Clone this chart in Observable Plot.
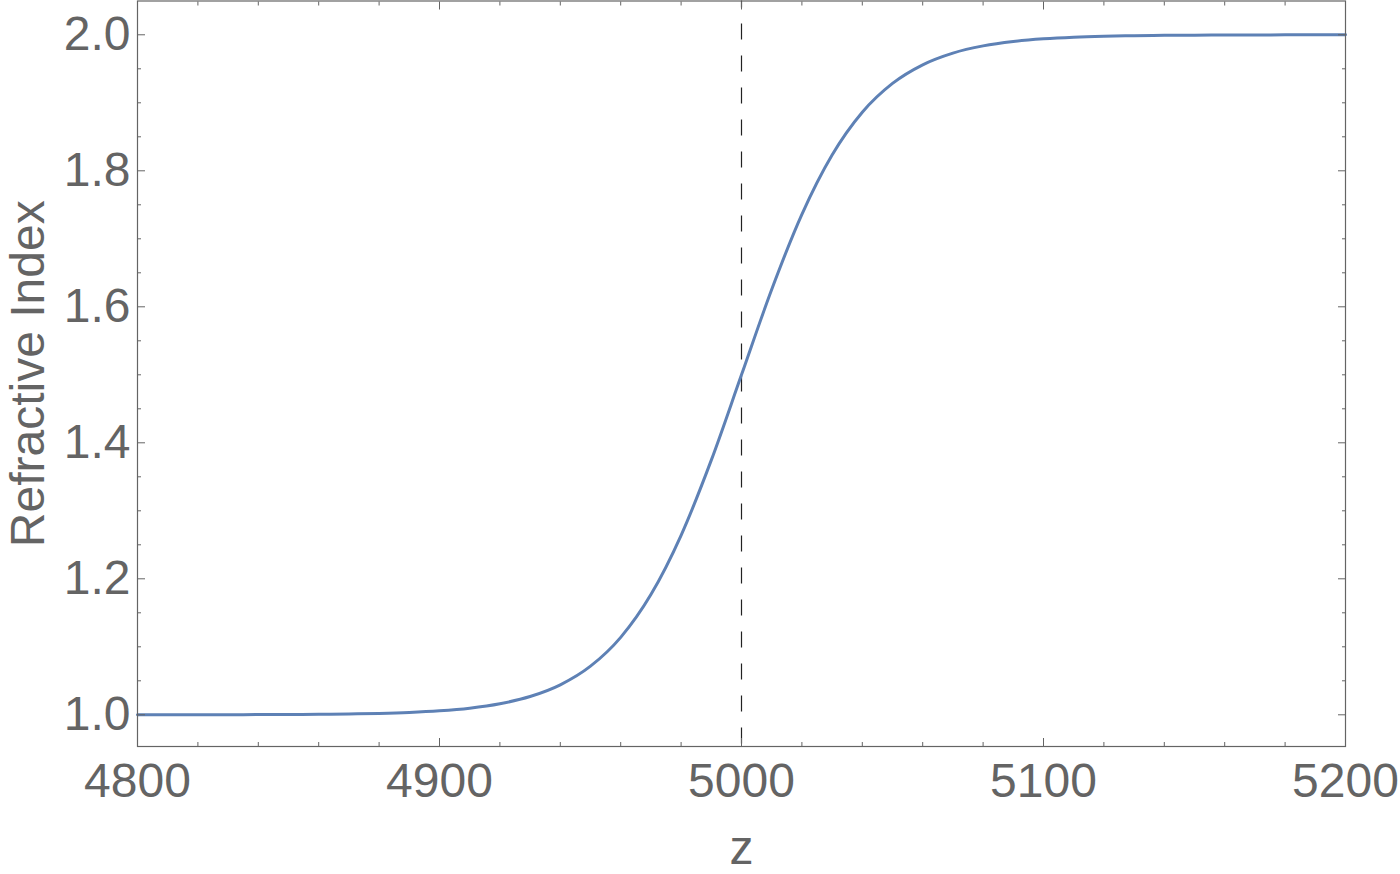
<!DOCTYPE html>
<html>
<head>
<meta charset="utf-8">
<script src="https://cdn.jsdelivr.net/npm/d3@7"></script>
<script src="https://cdn.jsdelivr.net/npm/@observablehq/plot@0.6"></script>
<style>
  html, body { margin: 0; padding: 0; background: #fff; }
  #chart { width: 1400px; height: 874px; }
</style>
</head>
<body>
<div id="chart"></div>
<script>
// Position z along the axis
const zValues = [4800, 4810, 4820, 4830, 4840, 4850, 4860, 4870, 4880, 4890,
                 4900, 4910, 4920, 4930, 4940, 4950, 4960, 4970, 4980, 4990,
                 5000, 5010, 5020, 5030, 5040, 5050, 5060, 5070, 5080, 5090,
                 5100, 5110, 5120, 5130, 5140, 5150, 5160, 5170, 5180, 5190, 5200];
// Refractive index
const indexValues = [1.0000, 1.0001, 1.0001, 1.0002, 1.0003, 1.0005, 1.0008, 1.0013, 1.0021, 1.0035,
                     1.0059, 1.0098, 1.0163, 1.0269, 1.0441, 1.0715, 1.1139, 1.1768, 1.2640, 1.3745,
                     1.5000, 1.6255, 1.7360, 1.8232, 1.8861, 1.9285, 1.9559, 1.9731, 1.9837, 1.9902,
                     1.9941, 1.9965, 1.9979, 1.9987, 1.9992, 1.9995, 1.9997, 1.9998, 1.9999, 1.9999, 2.0000];
const interfaceZ = [5000];
const xMajorTicks = [4800, 4900, 5000, 5100, 5200];
const xMinorTicks = [4820, 4840, 4860, 4880, 4920, 4940, 4960, 4980, 5020, 5040, 5060, 5080, 5120, 5140, 5160, 5180];
const yMajorTicks = [1.0, 1.2, 1.4, 1.6, 1.8, 2.0];
const yMinorTicks = [1.05, 1.1, 1.15, 1.25, 1.3, 1.35, 1.45, 1.5, 1.55, 1.65, 1.7, 1.75, 1.85, 1.9, 1.95];
const xLabel = "z";
const yLabel = "Refractive Index";

const data = zValues.map((z, i) => ({z, n: indexValues[i]}));

const gray = "#646464";
const tickStyle = {stroke: gray, strokeWidth: 1};

const plot = Plot.plot({
  width: 1400,
  height: 874,
  marginLeft: 137,
  marginRight: 55,
  marginTop: 0.5,
  marginBottom: 128,
  style: {fontFamily: "'Liberation Sans', Arial, sans-serif", fontSize: "48px", color: gray, background: "#fff"},
  x: {domain: [4800, 5200]},
  y: {domain: [0.9534, 2.0497]},
  marks: [
    Plot.ruleX(interfaceZ, {stroke: "#222", strokeWidth: 1.2, strokeDasharray: "16,16", strokeDashoffset: 9}),
    Plot.line(data, {x: "z", y: "n", stroke: "#5E81B5", strokeWidth: 3, curve: "monotone-x"}),
    // inward ticks on all four sides
    Plot.axisX(xMajorTicks, {anchor: "bottom", tickSize: -8, text: null, label: null, ...tickStyle}),
    Plot.axisX(xMinorTicks, {anchor: "bottom", tickSize: -4, text: null, label: null, ...tickStyle}),
    Plot.axisX(xMajorTicks, {anchor: "top", tickSize: -8, text: null, label: null, ...tickStyle}),
    Plot.axisX(xMinorTicks, {anchor: "top", tickSize: -4, text: null, label: null, ...tickStyle}),
    Plot.axisY(yMajorTicks, {anchor: "left", tickSize: -8, text: null, label: null, ...tickStyle}),
    Plot.axisY(yMinorTicks, {anchor: "left", tickSize: -4, text: null, label: null, ...tickStyle}),
    Plot.axisY(yMajorTicks, {anchor: "right", tickSize: -8, text: null, label: null, ...tickStyle}),
    Plot.axisY(yMinorTicks, {anchor: "right", tickSize: -4, text: null, label: null, ...tickStyle}),
    // tick labels
    Plot.axisX(xMajorTicks, {anchor: "bottom", tickSize: 0, tickPadding: 16, label: null, fill: gray, tickFormat: d => String(d)}),
    Plot.axisY(yMajorTicks, {anchor: "left", tickSize: 0, tickPadding: 7, label: null, fill: gray, tickFormat: d => d.toFixed(1)}),
    Plot.frame({stroke: gray, strokeWidth: 1.2}),
    // axis titles
    Plot.text([xLabel], {frameAnchor: "bottom", dy: 117, lineAnchor: "bottom", textAnchor: "middle", fill: gray, fontSize: 48, text: d => d}),
    Plot.text([yLabel], {frameAnchor: "left", dx: -94, rotate: -90, lineAnchor: "bottom", textAnchor: "middle", fill: gray, fontSize: 48, text: d => d})
  ]
});

document.getElementById("chart").appendChild(plot);
</script>
</body>
</html>
